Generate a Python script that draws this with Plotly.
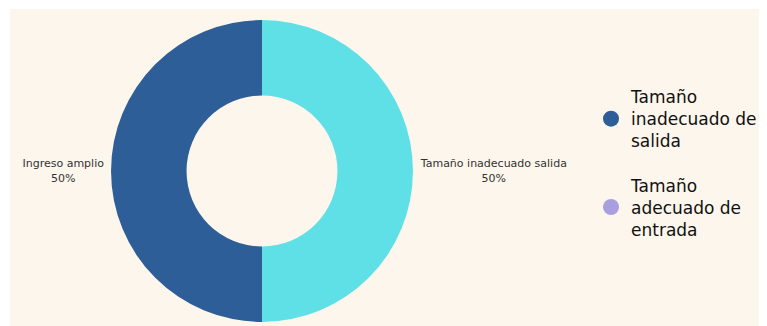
import plotly.graph_objects as go

# slice data
labels = ['Tamaño inadecuado salida', 'Ingreso amplio']
values = [50, 50]
slice_colors = ['#5EE0E6', '#2E5E98']

# legend entries (as shown in the reference legend)
legend_names = ['Tamaño<br>inadecuado de<br>salida', 'Tamaño<br>adecuado de<br>entrada']
legend_colors = ['#2E5E98', '#A99FE0']

CREAM = '#FDF6EC'

fig = go.Figure()
fig.add_trace(go.Pie(labels=labels, values=values, sort=False, direction='clockwise',
                     hole=0.5, marker=dict(colors=slice_colors, line=dict(width=0)),
                     textposition='outside',
                     texttemplate='%{label}<br>%{percent:.0%}',
                     textfont=dict(size=11, color='#333333'),
                     domain=dict(x=[0.132, 0.5268], y=[0.037, 0.966]),
                     showlegend=False))

for i, name in enumerate(legend_names):
    fig.add_trace(go.Scatter(x=[None], y=[None], mode='markers', name=name,
                             legendgroup=f'g{i}',
                             marker=dict(symbol='circle', size=18, color=legend_colors[i])))

fig.update_layout(
    width=767, height=326,
    margin=dict(l=2, r=0, t=1, b=0),
    paper_bgcolor='white',
    plot_bgcolor=CREAM,
    font=dict(family='DejaVu Sans, sans-serif'),
    xaxis=dict(visible=False, domain=[0, 1]),
    yaxis=dict(visible=False, domain=[0, 1]),
    legend=dict(x=0.7595, y=0.526, xanchor='left', yanchor='middle',
                font=dict(size=17, color='#111111'),
                tracegroupgap=19, bgcolor='rgba(0,0,0,0)'),
)

fig.write_html("out.html", post_script="document.body.style.overflow='hidden';")
